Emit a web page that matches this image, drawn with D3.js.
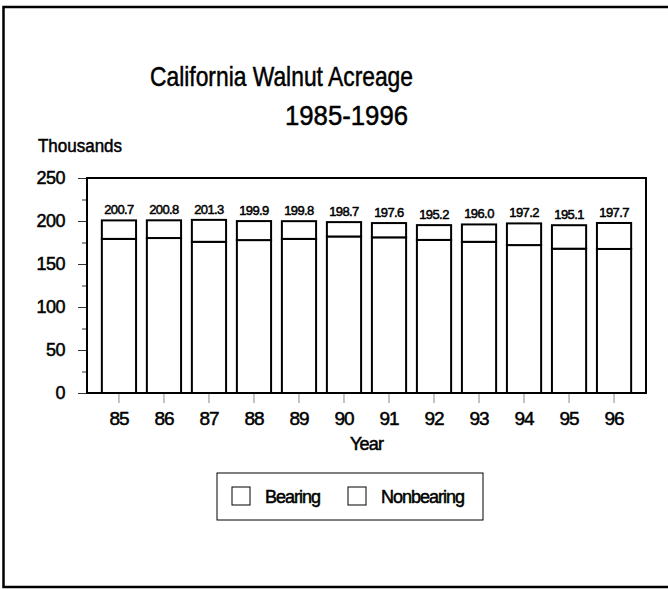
<!DOCTYPE html>
<html>
<head>
<meta charset="utf-8">
<script src="https://cdn.jsdelivr.net/npm/d3@7"></script>
<style>
  body { margin: 0; background: #fff; }
  svg { display: block; font-family: "Liberation Sans", Arial, sans-serif; }
  svg text { stroke: #000; stroke-width: 0.5px; }
</style>
</head>
<body>
<div id="chart-area"></div>
<script>
const years = ["85", "86", "87", "88", "89", "90", "91", "92", "93", "94", "95", "96"];
const bearing = [179.2, 180.2, 175.8, 177.8, 179.2, 182.0, 181.0, 178.0, 175.8, 172.0, 167.8, 167.5];
const nonbearing = [21.5, 20.6, 25.5, 22.1, 20.6, 16.7, 16.6, 17.2, 20.2, 25.2, 27.3, 30.2];
const majorTicks = [0, 50, 100, 150, 200, 250];
const minorTicks = [25, 75, 125, 175, 225];
const seriesNames = ["Bearing", "Nonbearing"];

const W = 668, H = 589;
const plot = { left: 87, right: 646, top: 178, bottom: 393 };

const svg = d3.select("#chart-area")
  .append("svg")
  .attr("width", W)
  .attr("height", H);

// outer frame (right side runs off the page)
svg.append("rect")
  .attr("x", 3.5).attr("y", 7)
  .attr("width", 700).attr("height", 580)
  .attr("fill", "none")
  .attr("stroke", "#000")
  .attr("stroke-width", 2.5);

// titles
svg.append("text")
  .attr("x", 150).attr("y", 86)
  .attr("font-size", "28px")
  .attr("textLength", 263)
  .attr("lengthAdjust", "spacingAndGlyphs")
  .text("California Walnut Acreage");

svg.append("text")
  .attr("x", 285).attr("y", 125)
  .attr("font-size", "28px")
  .attr("textLength", 123)
  .attr("lengthAdjust", "spacingAndGlyphs")
  .text("1985-1996");

svg.append("text")
  .attr("x", 38).attr("y", 152)
  .attr("font-size", "18px")
  .attr("textLength", 84)
  .attr("lengthAdjust", "spacingAndGlyphs")
  .text("Thousands");

const data = years.map((yr, i) => ({ year: yr, Bearing: bearing[i], Nonbearing: nonbearing[i] }));
const stacked = d3.stack().keys(seriesNames)(data);

const x = d3.scaleBand()
  .domain(years)
  .range([plot.left, plot.right])
  .paddingInner(0.24)
  .paddingOuter(0.33);

const y = d3.scaleLinear()
  .domain([0, 250])
  .range([plot.bottom, plot.top]);

// y axis
const yAxis = svg.append("g")
  .attr("transform", `translate(${plot.left}, 0)`)
  .call(d3.axisLeft(y).tickValues(majorTicks).tickSize(9).tickPadding(13));
yAxis.select(".domain").remove();
yAxis.selectAll("text")
  .attr("font-size", "18px")
  .attr("letter-spacing", "-0.5px")
  .attr("fill", "#000");
yAxis.selectAll("line").attr("stroke", "#333");

const yMinor = svg.append("g")
  .attr("transform", `translate(${plot.left}, 0)`)
  .call(d3.axisLeft(y).tickValues(minorTicks).tickSize(5).tickFormat(""));
yMinor.select(".domain").remove();
yMinor.selectAll("line").attr("stroke", "#333");

// x axis
const xAxis = svg.append("g")
  .attr("transform", `translate(0, ${plot.bottom})`)
  .call(d3.axisBottom(x).tickSize(10).tickPadding(9));
xAxis.select(".domain").remove();
xAxis.selectAll("line").attr("stroke", "#888");
xAxis.selectAll("text")
  .attr("font-size", "19px")
  .attr("letter-spacing", "-1px")
  .attr("fill", "#000");

svg.append("text")
  .attr("x", (plot.left + plot.right) / 2)
  .attr("y", 450)
  .attr("text-anchor", "middle")
  .attr("font-size", "18px")
  .attr("letter-spacing", "-0.8px")
  .text("Year");

// bars
svg.append("g")
  .selectAll("g")
  .data(stacked)
  .join("g")
  .selectAll("rect")
  .data(d => d)
  .join("rect")
  .attr("x", d => x(d.data.year))
  .attr("y", d => y(d[1]))
  .attr("width", x.bandwidth())
  .attr("height", d => y(d[0]) - y(d[1]))
  .attr("fill", "#fff")
  .attr("stroke", "#000")
  .attr("stroke-width", 2);

// total labels
svg.append("g")
  .selectAll("text")
  .data(stacked[stacked.length - 1])
  .join("text")
  .attr("x", d => x(d.data.year) + x.bandwidth() / 2)
  .attr("y", d => y(d[1]) - 6)
  .attr("text-anchor", "middle")
  .attr("font-size", "13px")
  .attr("letter-spacing", "-0.6px")
  .text(d => d[1].toFixed(1));

// plot frame
svg.append("rect")
  .attr("x", plot.left).attr("y", plot.top)
  .attr("width", plot.right - plot.left)
  .attr("height", plot.bottom - plot.top)
  .attr("fill", "none")
  .attr("stroke", "#000")
  .attr("stroke-width", 2);

// legend
const legend = svg.append("g");
legend.append("rect")
  .attr("x", 217).attr("y", 473)
  .attr("width", 266).attr("height", 47)
  .attr("fill", "none")
  .attr("stroke", "#000")
  .attr("stroke-width", 1);

const legendX = d3.scaleOrdinal().domain(seriesNames).range([232, 348]);
const item = legend.selectAll("g")
  .data(seriesNames)
  .join("g")
  .attr("transform", d => `translate(${legendX(d)}, 487)`);
item.append("rect")
  .attr("width", 18).attr("height", 18)
  .attr("fill", "#fff")
  .attr("stroke", "#000")
  .attr("stroke-width", 1);
item.append("text")
  .attr("x", 33).attr("y", 16)
  .attr("font-size", "18px")
  .attr("letter-spacing", "-1px")
  .text(d => d);
</script>
</body>
</html>
